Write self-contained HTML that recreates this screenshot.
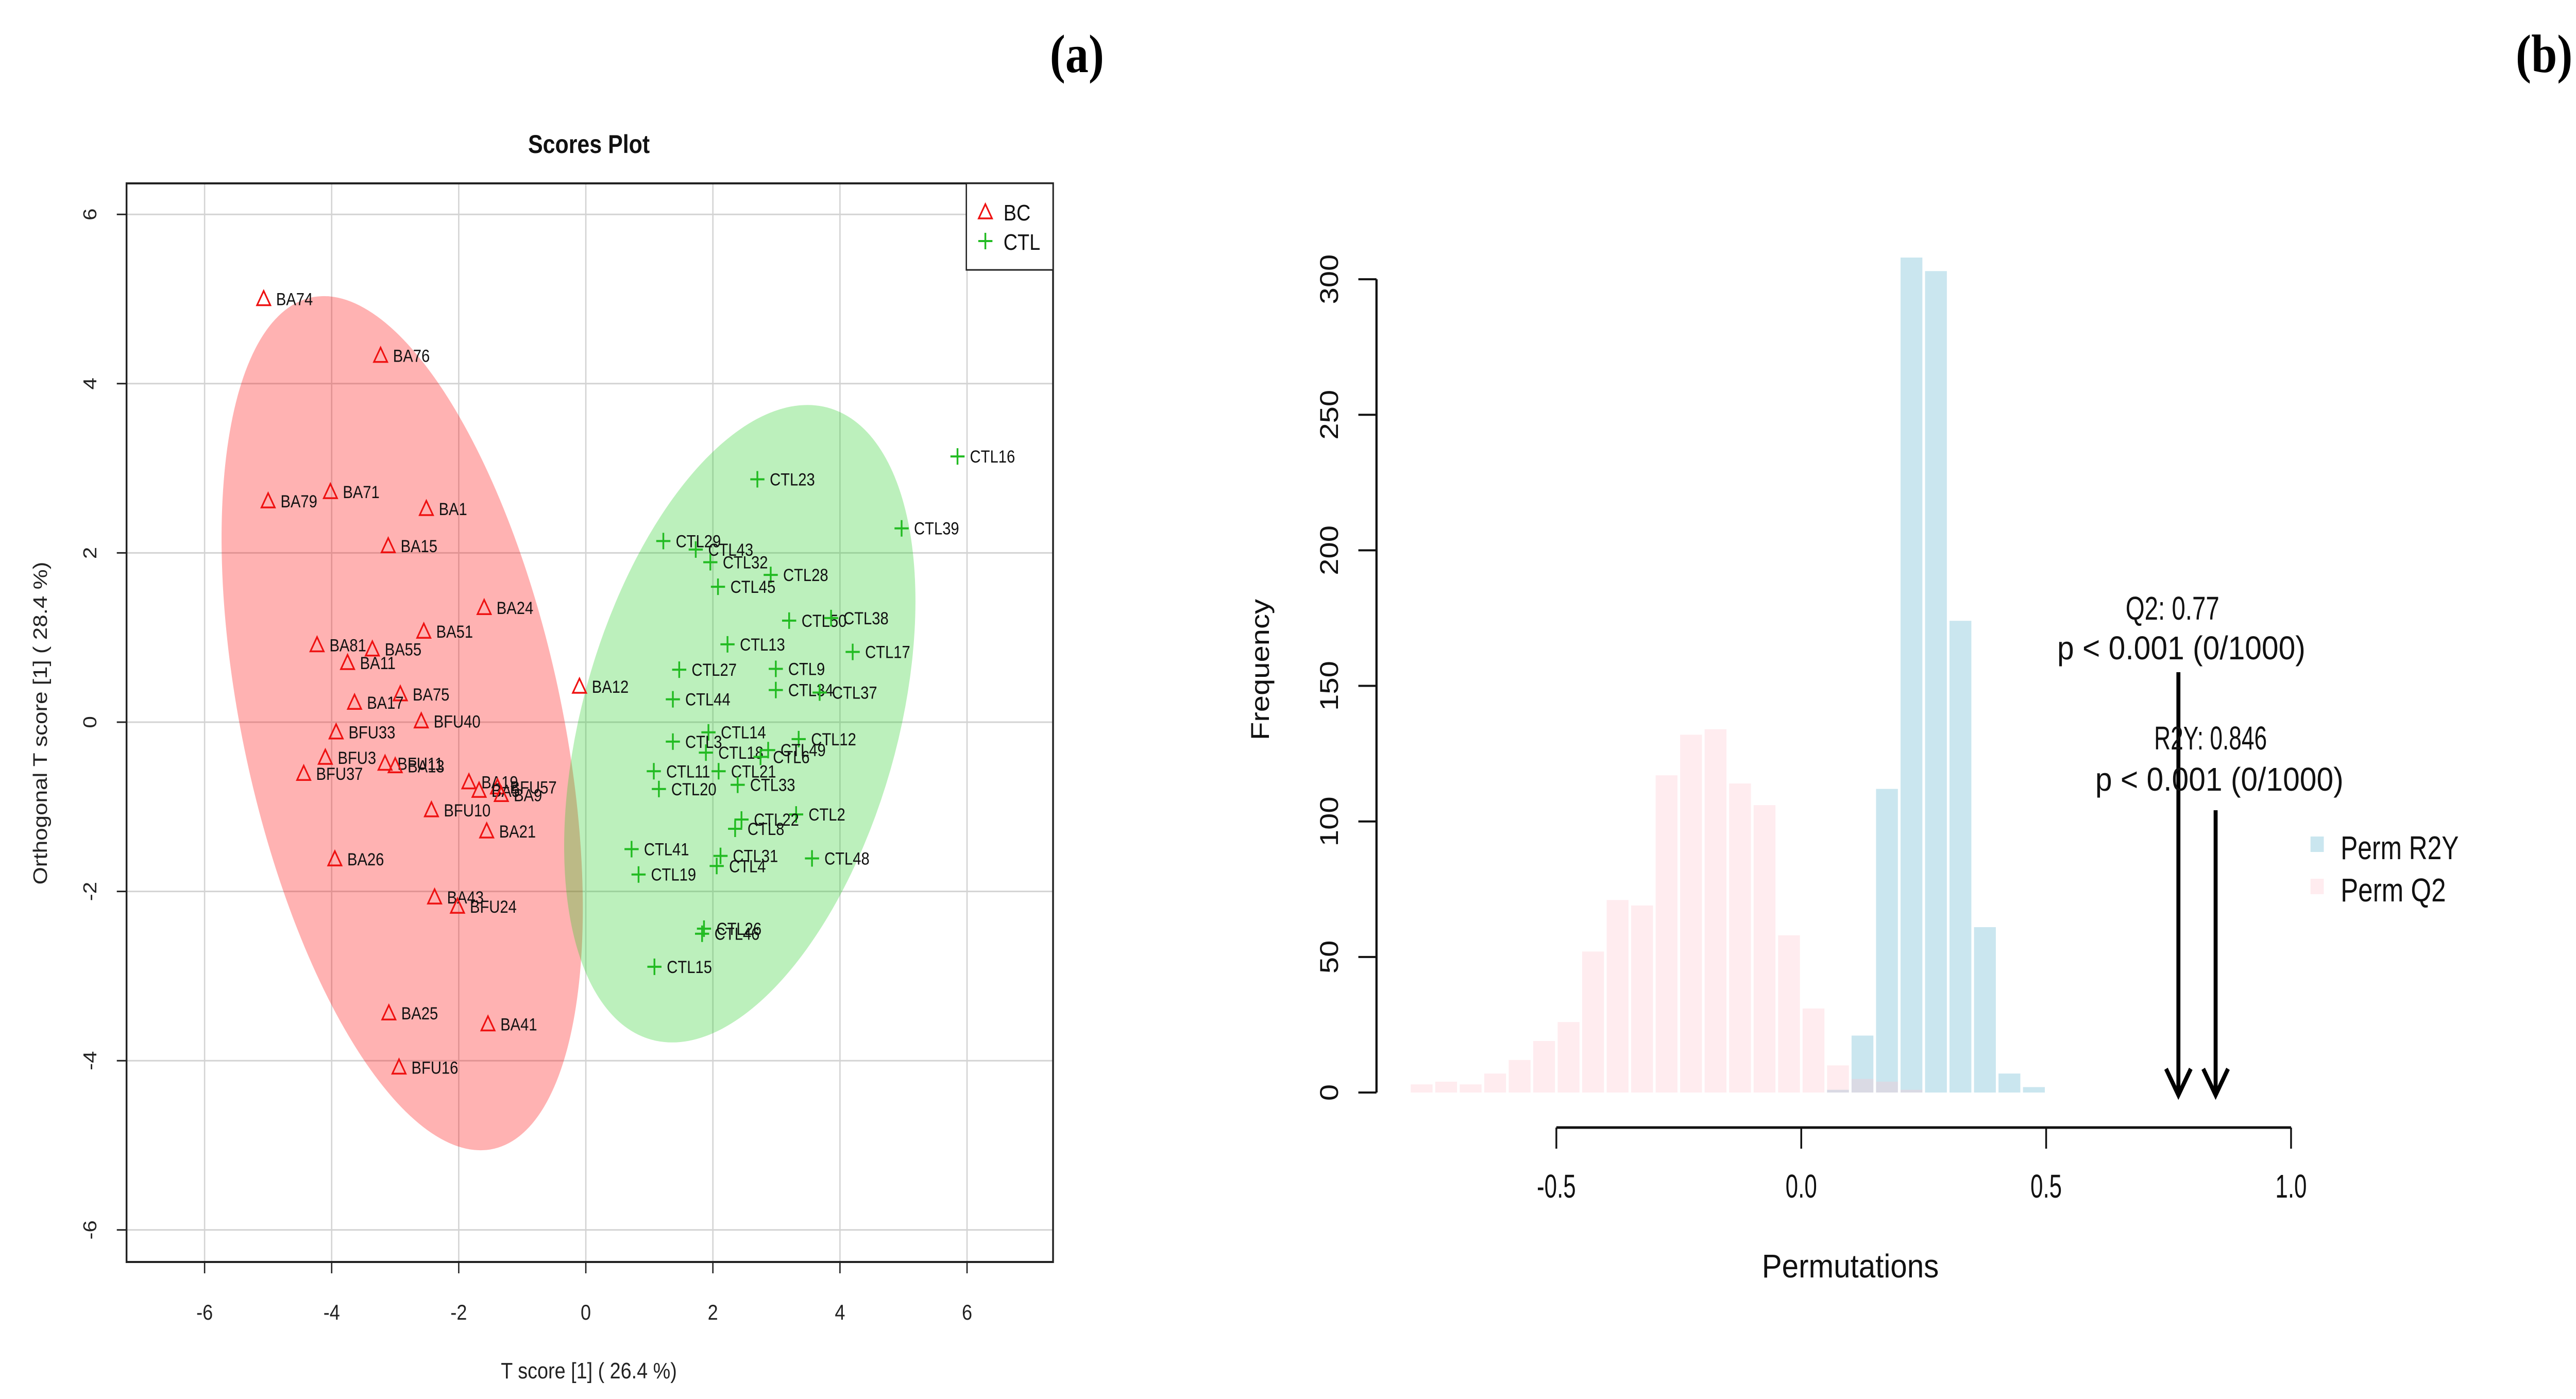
<!DOCTYPE html>
<html><head><meta charset="utf-8">
<meta name="viewport" content="width=5822">
<style>
html,body{margin:0;padding:0;background:#fff;overflow:hidden;width:100vw;height:100vh;}
svg{display:block;font-family:"Liberation Sans",Arial,sans-serif;width:100vw;height:100vh;}
</style></head>
<body>
<svg id="fig" viewBox="0 0 5822 2716" preserveAspectRatio="none" xmlns="http://www.w3.org/2000/svg">
<rect x="0" y="0" width="5822" height="2716" fill="#fff"/>
<text x="2434" y="140" font-family="Liberation Serif,serif" font-weight="bold" font-size="105" text-anchor="middle">(a)</text>
<text x="5750" y="140" font-family="Liberation Serif,serif" font-weight="bold" font-size="105" text-anchor="middle">(b)</text>
<g id="left"></g>
<g id="right"></g>
</svg>
<script>
// ---------- Scores plot data ----------
const bcNames = ["BA74","BA76","BA71","BA79","BA1","BA15","BA24","BA51","BA81","BA55","BA11","BA75","BA17","BFU40","BFU33","BFU3","BFU37","BFU11","BA13","BA19","BFU57","BA5","BA9","BFU10","BA21","BA26","BA43","BFU24","BA25","BA41","BFU16","BA12"];
const bcX = [-5.07,-3.23,-4.02,-5.0,-2.51,-3.11,-1.6,-2.55,-4.23,-3.36,-3.75,-2.92,-3.64,-2.59,-3.93,-4.1,-4.44,-3.16,-3.0,-1.84,-1.39,-1.68,-1.33,-2.43,-1.56,-3.95,-2.38,-2.02,-3.1,-1.54,-2.94,-0.1];
const bcY = [5.0,4.33,2.72,2.61,2.52,2.08,1.35,1.07,0.91,0.86,0.70,0.33,0.23,0.01,-0.12,-0.42,-0.61,-0.49,-0.52,-0.71,-0.77,-0.81,-0.86,-1.04,-1.29,-1.62,-2.07,-2.18,-3.44,-3.57,-4.08,0.42];
const ctlNames = ["CTL16","CTL23","CTL39","CTL29","CTL43","CTL32","CTL28","CTL45","CTL50","CTL38","CTL17","CTL13","CTL9","CTL27","CTL34","CTL37","CTL44","CTL14","CTL3","CTL12","CTL18","CTL49","CTL6","CTL11","CTL21","CTL20","CTL33","CTL2","CTL22","CTL8","CTL41","CTL31","CTL48","CTL4","CTL19","CTL26","CTL46","CTL15"];
const ctlX = [5.85,2.7,4.97,1.22,1.73,1.96,2.91,2.08,3.2,3.86,4.2,2.23,2.99,1.47,2.99,3.68,1.37,1.93,1.37,3.35,1.89,2.87,2.75,1.07,2.09,1.15,2.39,3.31,2.45,2.35,0.72,2.12,3.56,2.06,0.83,1.86,1.83,1.08];
const ctlY = [3.14,2.87,2.29,2.14,2.04,1.89,1.74,1.6,1.2,1.23,0.83,0.92,0.63,0.62,0.38,0.35,0.27,-0.12,-0.23,-0.2,-0.36,-0.33,-0.41,-0.58,-0.58,-0.79,-0.74,-1.09,-1.15,-1.26,-1.5,-1.58,-1.61,-1.7,-1.8,-2.44,-2.5,-2.89];
const scoreTicks = [-6,-4,-2,0,2,4,6];

// ---------- Histogram data ----------
const q2Bins = [-0.80,-0.75,-0.70,-0.65,-0.60,-0.55,-0.50,-0.45,-0.40,-0.35,-0.30,-0.25,-0.20,-0.15,-0.10,-0.05,0.00,0.05,0.10,0.15,0.20];
const q2Counts = [3,4,3,7,12,19,26,52,71,69,117,132,134,114,106,58,31,10,5,4,1];
const r2yBins = [0.05,0.10,0.15,0.20,0.25,0.30,0.35,0.40,0.45];
const r2yCounts = [1,21,112,308,303,174,61,7,2];
const freqTicks = [0,50,100,150,200,250,300];
const permTicks = [-0.5,0.0,0.5,1.0];
const permTickLabels = ["-0.5","0.0","0.5","1.0"];
const q2Value = 0.77;
const r2yValue = 0.846;

const NS = "http://www.w3.org/2000/svg";
function mk(parent, tag, attrs, text){
  const e = document.createElementNS(NS, tag);
  for (const k in attrs) e.setAttribute(k, attrs[k]);
  if (text !== undefined) e.textContent = text;
  parent.appendChild(e);
  return e;
}

// ----- Left panel -----
const L = document.getElementById('left');
const sx = v => 1324 + v * 143.6;
const sy = v => 1402 - v * 164.3;
const box = {x0:286, x1:2380, y0:356, y1:2450};

scoreTicks.forEach(t => {
  const g1 = mk(L,'line',{x1:sx(t),x2:sx(t),y1:box.y0,y2:box.y1,stroke:'#d3d3d3','stroke-width':3});
  
  
  const g2 = mk(L,'line',{x1:box.x0,x2:box.x1,y1:sy(t),y2:sy(t),stroke:'#d3d3d3','stroke-width':3});
  
  
});
const e1 = mk(L,'ellipse',{cx:909,cy:1404,rx:358,ry:852,fill:'#ff0000','fill-opacity':0.3,transform:'rotate(-14.7 909 1404)'});


const e2 = mk(L,'ellipse',{cx:1672,cy:1405,rx:351,ry:646,fill:'#22cc22','fill-opacity':0.3,transform:'rotate(20 1672 1405)'});


const fr = mk(L,'rect',{x:box.x0,y:box.y0,width:box.x1-box.x0,height:box.y1-box.y0,fill:'none',stroke:'#222','stroke-width':4});


scoreTicks.forEach(t => {
  mk(L,'line',{x1:sx(t),x2:sx(t),y1:box.y1,y2:box.y1+22,stroke:'#222','stroke-width':3});
  const tl = mk(L,'text',{x:sx(t),y:2562,'font-size':42,'text-anchor':'middle',fill:'#222'}, String(t));
  
  
  mk(L,'line',{x1:box.x0-22,x2:box.x0,y1:sy(t),y2:sy(t),stroke:'#222','stroke-width':3});
  const yl = mk(L,'text',{x:0,y:0,'font-size':42,'text-anchor':'middle',fill:'#222',transform:`translate(218 ${sy(t)}) rotate(-90)`}, String(t));
  
  
});
const tt = mk(L,'text',{x:1331,y:297,'font-size':50,'font-weight':'bold','text-anchor':'middle',fill:'#111'},'Scores Plot');


const xt = mk(L,'text',{x:1331,y:2676,'font-size':44,'text-anchor':'middle',fill:'#222'},'T score [1] ( 26.4 %)');


const yt = mk(L,'text',{x:0,y:0,'font-size':44,'text-anchor':'middle',fill:'#222',transform:'translate(106 1404) rotate(-90)'},'Orthogonal T score [1] ( 28.4 %)');



function tri(x,y){ const s=15; return `${x-s},${y+s*0.8} ${x+s},${y+s*0.8} ${x},${y-s*1.05}`; }
bcNames.forEach((n,i) => {
  const x = sx(bcX[i]), y = sy(bcY[i]);
  const p = mk(L,'polygon',{points:tri(x,y),fill:'none',stroke:'#ee1111','stroke-width':3.5});
  
  
  const t = mk(L,'text',{x:x+28,y:y+12,'font-size':34,fill:'#111'},n);
  
  
});
ctlNames.forEach((n,i) => {
  const x = sx(ctlX[i]), y = sy(ctlY[i]);
  const p = mk(L,'path',{d:`M${x-16},${y}H${x+16}M${x},${y-16}V${y+16}`,stroke:'#22bb22','stroke-width':4,fill:'none'});
  
  
  const t = mk(L,'text',{x:x+28,y:y+12,'font-size':34,fill:'#111'},n);
  
  
});
const lg = mk(L,'g',{});


mk(lg,'rect',{x:2184,y:356,width:196,height:168,fill:'#fff',stroke:'#222','stroke-width':3});
const lp1 = mk(lg,'polygon',{points:tri(2227,412),fill:'none',stroke:'#ee1111','stroke-width':3.5});


mk(lg,'text',{x:2268,y:428,'font-size':44,fill:'#111'},'BC');
const lp2 = mk(lg,'path',{d:'M2211,468H2243M2227,452V484',stroke:'#22bb22','stroke-width':4});


mk(lg,'text',{x:2268,y:485,'font-size':44,fill:'#111'},'CTL');

// ----- Right panel -----
const R = document.getElementById('right');
const hx = v => 4071 + v * 1107;
const hy = v => 2121 - v * 5.263;
const bw = 0.05;
r2yBins.forEach((b,i) => {
  const r = mk(R,'rect',{x:hx(b)+3,y:hy(r2yCounts[i]),width:bw*1107-6,height:hy(0)-hy(r2yCounts[i]),fill:'#add8e6','fill-opacity':0.65});
  
  
});
q2Bins.forEach((b,i) => {
  const r = mk(R,'rect',{x:hx(b)+3,y:hy(q2Counts[i]),width:bw*1107-6,height:hy(0)-hy(q2Counts[i]),fill:'#ffc0cb','fill-opacity':0.3});
  
  
});
mk(R,'line',{x1:3111,x2:3111,y1:hy(0),y2:hy(300),stroke:'#111','stroke-width':5});
freqTicks.forEach(t => {
  mk(R,'line',{x1:3070,x2:3111,y1:hy(t),y2:hy(t),stroke:'#111','stroke-width':4});
  const l = mk(R,'text',{x:0,y:0,'font-size':58,'text-anchor':'middle',fill:'#111',transform:`translate(3024 ${hy(t)}) rotate(-90)`},String(t));
  
  
});
mk(R,'line',{x1:hx(-0.5),x2:hx(1.0),y1:2189,y2:2189,stroke:'#111','stroke-width':5});
permTicks.forEach((t,i) => {
  mk(R,'line',{x1:hx(t),x2:hx(t),y1:2189,y2:2230,stroke:'#111','stroke-width':4});
  const l = mk(R,'text',{x:hx(t),y:2325,'font-size':64,'text-anchor':'middle',fill:'#111',transform:`translate(${hx(t)} 0) scale(0.8 1) translate(${-hx(t)} 0)`},permTickLabels[i]);
  
  
});
const fx = mk(R,'text',{x:0,y:0,'font-size':58,'text-anchor':'middle',fill:'#111',transform:'translate(2868 1300) rotate(-90)'},'Frequency');


const px = mk(R,'text',{x:4182,y:2480,'font-size':64,'text-anchor':'middle',fill:'#111',textLength:400,lengthAdjust:'spacingAndGlyphs'},'Permutations');


function arrow(v, top, name){
  const x = hx(v);
  const g = mk(R,'g',{});
  
  
  mk(g,'line',{x1:x,x2:x,y1:top,y2:2120,stroke:'#000','stroke-width':9});
  mk(g,'path',{d:`M${x-28},${2075} L${x},${2126} L${x+28},${2075}`,stroke:'#000','stroke-width':9,fill:'none'});
}
arrow(q2Value, 1305, 'q2-arrow');
arrow(r2yValue, 1573, 'r2y-arrow');
function ann(x,y,txt,len,name){
  const t = mk(R,'text',{x:x,y:y,'font-size':64,'text-anchor':'middle',fill:'#111',textLength:len,lengthAdjust:'spacingAndGlyphs'},txt);
  
  
}
ann(4910,1203,'Q2: '+q2Value,212,'q2-annotation');
ann(4930,1280,'p < 0.001 (0/1000)',561,'q2-p-value');
ann(4996,1455,'R2Y: '+r2yValue,255,'r2y-annotation');
ann(5016,1535,'p < 0.001 (0/1000)',561,'r2y-p-value');
const lg2 = mk(R,'g',{});


const s1 = mk(lg2,'rect',{x:5222,y:1624,width:30,height:30,fill:'#add8e6','fill-opacity':0.65});


mk(lg2,'text',{x:5290,y:1668,'font-size':64,fill:'#111',textLength:267,lengthAdjust:'spacingAndGlyphs'},'Perm R2Y');
const s2 = mk(lg2,'rect',{x:5222,y:1706,width:30,height:30,fill:'#ffc0cb','fill-opacity':0.3});


mk(lg2,'text',{x:5290,y:1750,'font-size':64,fill:'#111',textLength:238,lengthAdjust:'spacingAndGlyphs'},'Perm Q2');
</script>
</body></html>
